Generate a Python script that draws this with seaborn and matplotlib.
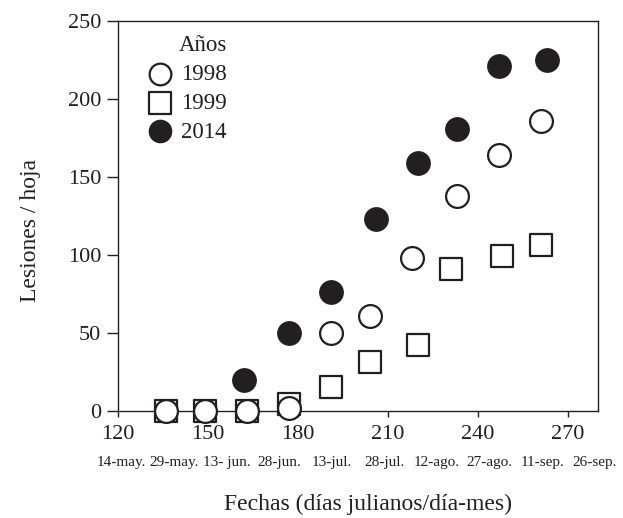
import numpy as np
import pandas as pd
import matplotlib
matplotlib.use("Agg")
import matplotlib.pyplot as plt
import seaborn as sns

# ---- data ----
dias_1998 = [136, 149, 163, 177, 191, 204, 218, 233, 247, 261]
les_1998 = [0, 0, 0, 2, 50, 61, 98, 138, 164, 186]

dias_1999 = [136, 149, 163, 177, 191, 204, 220, 231, 248, 261]
les_1999 = [0, 0, 0, 4, 15, 31, 42, 91, 99, 106]

dias_2014 = [162, 177, 191, 206, 220, 233, 247, 263]
les_2014 = [20, 50, 76, 123, 159, 181, 221, 225]

xticks = [120, 150, 180, 210, 240, 270]
yticks = [0, 50, 100, 150, 200, 250]
fechas = ["14-may.", "29-may.", "13- jun.", "28-jun.", "13-jul.",
          "28-jul.", "12-ago.", "27-ago.", "11-sep.", "26-sep."]

sns.set_theme(style="ticks")
plt.rcParams["font.family"] = ["Liberation Serif", "DejaVu Serif"]
plt.rcParams["mathtext.fontset"] = "stix"

ink = "#231f20"
fig = plt.figure(figsize=(6.23, 5.18), dpi=100)
ax = fig.add_axes([118 / 623, 1 - 410.7 / 518, 480 / 623, 389.7 / 518])

df98 = pd.DataFrame({"x": dias_1998, "y": les_1998})
df99 = pd.DataFrame({"x": dias_1999, "y": les_1999})
df14 = pd.DataFrame({"x": dias_2014, "y": les_2014})

msize = 270
sns.scatterplot(data=df99, x="x", y="y", ax=ax, marker="s", s=msize * 0.95,
                color="white", edgecolor=ink, linewidth=1.6, label="1999",
                zorder=3, clip_on=False)
sns.scatterplot(data=df98, x="x", y="y", ax=ax, marker="o", s=msize,
                color="white", edgecolor=ink, linewidth=1.6, label="1998",
                zorder=4, clip_on=False)
sns.scatterplot(data=df14, x="x", y="y", ax=ax, marker="o", s=msize * 1.05,
                color=ink, edgecolor=ink, linewidth=1.0, label="2014",
                zorder=5, clip_on=False)

ax.set_xlim(120, 280)
ax.set_ylim(0, 250)
ax.set_xticks(xticks)
ax.set_yticks(yticks)
ax.tick_params(axis="x", direction="out", length=4.5, width=1.0, color=ink,
               labelsize=16, pad=6, labelcolor=ink)
ax.tick_params(axis="y", direction="out", length=8, width=1.0, color=ink,
               labelsize=16, pad=4, labelcolor=ink)
for sp in ax.spines.values():
    sp.set_visible(True)
    sp.set_color(ink)
    sp.set_linewidth(1.0)
    sp.set_zorder(2)

# date labels under the julian-day ticks
for xpos, txt in zip(np.linspace(121, 279, len(fechas)), fechas):
    ax.text(xpos, -0.133, txt, transform=ax.get_xaxis_transform(),
            ha="center", va="center", fontsize=11, color=ink)

ax.set_xlabel("Fechas (días julianos/día-mes)", fontsize=17, color=ink)
ax.xaxis.set_label_coords((368 - 118) / 480, (410.7 - 504) / 389.7)
ax.xaxis.label.set_va("center")
ax.set_ylabel("Lesiones / hoja", fontsize=17, color=ink)
ax.yaxis.set_label_coords((41 - 118) / 480, (410.7 - 231) / 389.7)

handles, labels = ax.get_legend_handles_labels()
order = [labels.index(l) for l in ["1998", "1999", "2014"]]
leg = ax.legend([handles[i] for i in order], [labels[i] for i in order],
                title="Años", loc="upper left",
                bbox_to_anchor=((149 - 118) / 480, 1 - (35 - 21) / 389.7),
                borderaxespad=0, borderpad=0, frameon=False, fontsize=16.5,
                title_fontsize=16.5, handlelength=1.0, handletextpad=0.4,
                labelspacing=0.34, markerscale=0.95, alignment="right")
for t in leg.get_texts():
    t.set_color(ink)
leg.get_title().set_color(ink)

fig.savefig("out.png", dpi=100)
